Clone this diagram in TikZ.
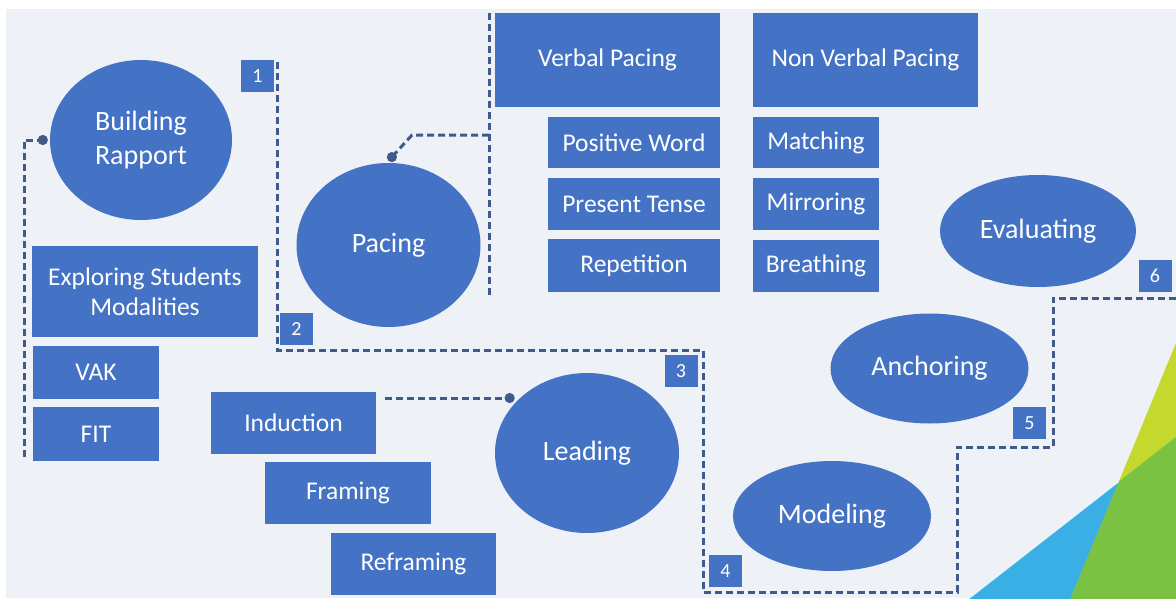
\documentclass[tikz,border=0pt]{standalone}
\usepackage{fontspec}
\setmainfont{Carlito}
\usetikzlibrary{arrows.meta,shapes.geometric}

\definecolor{paper}{HTML}{EEF2F7}
\definecolor{shapefill}{HTML}{4472C4}
\definecolor{routeline}{HTML}{41598B}
\definecolor{skyblue}{HTML}{3AAFE6}
\definecolor{leafgreen}{HTML}{7CC242}
\definecolor{limegreen}{HTML}{C4D82E}

\begin{document}
\begin{tikzpicture}[x=1pt,y=-1pt,
  oval/.style={ellipse, fill=shapefill, text=white, inner sep=0pt, align=center,
    font=\fontsize{28}{34}\selectfont},
  card/.style={rectangle, fill=shapefill, text=white, inner sep=0pt, align=center,
    font=\fontsize{25.5}{30}\selectfont},
  badge/.style={rectangle, fill=shapefill, text=white, inner sep=0pt,
    minimum width=33pt, minimum height=32pt, font=\fontsize{20}{20}\selectfont},
  link/.style={draw=routeline, line width=3pt, dash pattern=on 7pt off 4pt},
  dotend/.style={-{Circle[length=10pt,width=10pt]}},
]
\useasboundingbox (0,0) rectangle (1176,600);
\fill[white] (0,0) rectangle (1176,600);
\fill[paper] (6,9) rectangle (1176,598);

% corner decoration
\begin{scope}
  \clip (6,9) rectangle (1176,598);
  \fill[skyblue] (967,600) -- (1176,437) -- (1176,600) -- cycle;
  \fill[limegreen] (1070,600) -- (1176,343) -- (1176,437) -- (1118.8,481.6) -- cycle;
  \fill[leafgreen] (1070,600) -- (1118.8,481.6) -- (1176,437) -- (1176,600) -- cycle;
  \draw[white, line width=1.2pt, opacity=0.7] (967,600) -- (1118.8,481.6);
\end{scope}

% stages
\node[oval, minimum width=182pt, minimum height=160pt] (rapport) at (141,140) {Building\\Rapport};
\node[oval, minimum width=184pt, minimum height=164pt] (pacing) at (388.5,245) {Pacing};
\node[oval, minimum width=184pt, minimum height=160pt] (leading) at (587,453) {Leading};
\node[oval, minimum width=198pt, minimum height=110pt] (modeling) at (832,516) {Modeling};
\node[oval, minimum width=198pt, minimum height=110pt] (anchoring) at (929.5,368.5) {Anchoring};
\node[oval, minimum width=196pt, minimum height=112pt] (evaluating) at (1038,231) {Evaluating};

% rapport details
\node[card, minimum width=226pt, minimum height=91pt] (explore) at (145,291.5) {Exploring Students\\Modalities};
\node[card, minimum width=126pt, minimum height=53pt] (vak) at (96,372.5) {VAK};
\node[card, minimum width=126pt, minimum height=54pt] (fit) at (96,434) {FIT};

% pacing details
\node[card, minimum width=225pt, minimum height=94pt] (verbal) at (607.5,60) {Verbal Pacing};
\node[card, minimum width=225pt, minimum height=94pt] (nonverbal) at (865.5,60) {Non Verbal Pacing};
\node[card, minimum width=172pt, minimum height=51pt] (positive) at (634,142.5) {Positive Word};
\node[card, minimum width=172pt, minimum height=52pt] (present) at (634,204) {Present Tense};
\node[card, minimum width=172pt, minimum height=53pt] (repetition) at (634,265.5) {Repetition};
\node[card, minimum width=126pt, minimum height=51pt] (matching) at (816,142.5) {Matching};
\node[card, minimum width=126pt, minimum height=52pt] (mirroring) at (816,204) {Mirroring};
\node[card, minimum width=126pt, minimum height=52pt] (breathing) at (816,266) {Breathing};

% leading details
\node[card, minimum width=165pt, minimum height=62pt] (induction) at (293.5,423) {Induction};
\node[card, minimum width=166pt, minimum height=62pt] (framing) at (348,493) {Framing};
\node[card, minimum width=165pt, minimum height=62pt] (reframing) at (413.5,564) {Reframing};

% step numbers
\node[badge] (b1) at (257.5,76) {1};
\node[badge] (b2) at (296.5,329) {2};
\node[badge] (b3) at (681,371) {3};
\node[badge] (b4) at (725.5,571) {4};
\node[badge] (b5) at (1029.5,423) {5};
\node[badge] (b6) at (1155,276) {6};

% bracket tying the modalities to rapport
\coordinate (bracketEnd) at (24,457);
\draw[link, dotend] (bracketEnd) |- ([xshift=-2pt]rapport.west);

% spine tying verbal / non verbal pacing to pacing
\coordinate (spineTop) at (489,13);
\coordinate (spineBot) at (489,295);
\coordinate (spineJoint) at (489,135);
\coordinate (spineBend) at (412,135);
\draw[link] (spineTop) -- (spineBot);
\draw[link, dotend] (spineJoint) -- (spineBend) -- ([yshift=2pt]pacing.north);

% induction to leading
\coordinate (leadStart) at (385,398);
\draw[link, dotend, shorten >=6pt] (leadStart) -- (leadStart -| leading.140);

% numbered route through the stages
\coordinate (routeStart) at (277,62);
\coordinate (routeEnd) at (1176,298);
\draw[link] (routeStart) -- (277,350) -- (703,350) -- (703,592) -- (957,592)
  -- (957,447) -- (1053,447) -- (1053,298) -- (routeEnd);
\end{tikzpicture}
\end{document}
